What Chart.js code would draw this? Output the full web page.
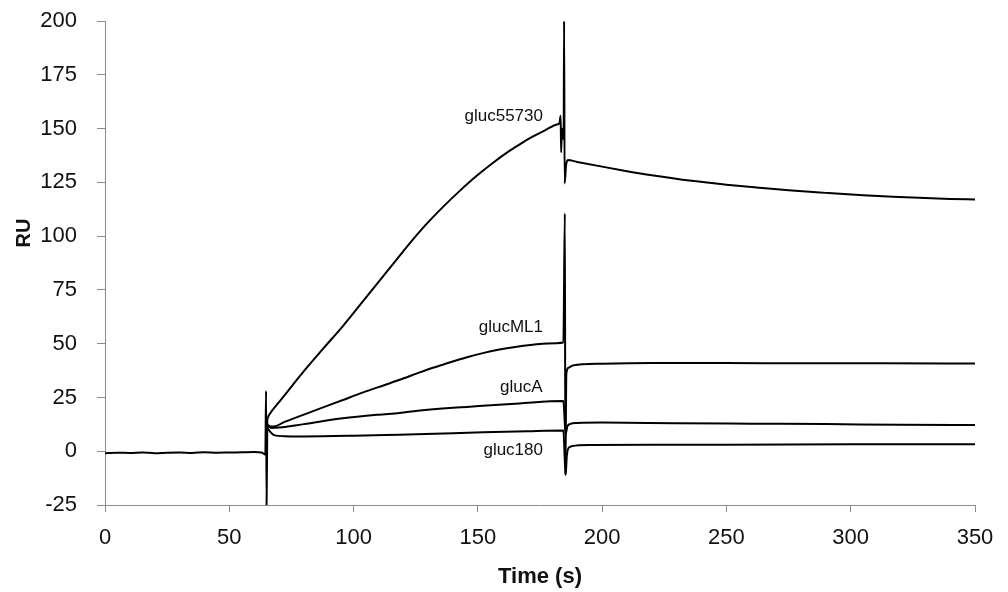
<!DOCTYPE html>
<html>
<head>
<meta charset="utf-8">
<script src="https://cdn.jsdelivr.net/npm/chart.js@4.4.1/dist/chart.umd.min.js"></script>
<style>
  html, body { margin: 0; padding: 0; background: #ffffff; }
  #wrap { width: 1008px; height: 592px; position: relative; }
</style>
</head>
<body>
<div id="wrap"><canvas id="c" width="1008" height="592"></canvas></div>
<script>
// ---- Data ----
const xTicks = [0, 50, 100, 150, 200, 250, 300, 350];
const yTicks = [-25, 0, 25, 50, 75, 100, 125, 150, 175, 200];

// shared baseline before injection, including injection spike
const baselineTime = [0, 5, 10, 15, 20, 25, 30, 35, 40, 45, 50, 55, 60, 63, 64.5, 64.8, 65.0, 65.3];
const baselineRU   = [-0.9, -0.7, -0.8, -0.6, -0.9, -0.7, -0.6, -0.8, -0.5, -0.7, -0.6, -0.5, -0.4, -0.6, -1.5, 28, -25, 15];

const time55730 = [65.3, 66, 70, 75, 80, 88, 95.7, 103, 110, 116, 122.5, 129, 136, 142.5, 149.3, 156, 162.7, 167, 172, 177, 182.1, 182.8, 183.3, 183.5, 183.8, 184.5, 184.7, 184.9, 185.5, 186.2, 190, 200, 210, 220, 236, 250, 263, 275, 290, 305, 317, 330, 340, 350];
const ru55730   = [15, 16.8, 22.8, 30, 37.2, 48, 58.2, 68.6, 78.6, 87.2, 96.5, 105.2, 113.6, 120.8, 127.8, 134, 139.6, 142.8, 146.2, 149.2, 152, 152.4, 156, 139, 150, 145, 200, 124.5, 133, 135.4, 134.5, 132.3, 130.2, 128.3, 125.7, 123.9, 122.5, 121.3, 120.1, 119, 118.3, 117.7, 117.3, 117.0];

const timeML1 = [65.3, 66.5, 68, 72, 80, 88, 95.7, 103, 110, 118.5, 125.8, 131.9, 138, 145.3, 152, 158.7, 165, 172.1, 178, 184.4, 185.0, 185.2, 185.6, 186.5, 188, 192, 200, 220, 250, 280, 310, 350];
const ruML1   = [12.5, 11.5, 11.5, 13.5, 17, 20.5, 23.8, 27, 29.8, 33.2, 36.3, 38.8, 41, 43.6, 45.6, 47.3, 48.5, 49.5, 50.1, 50.5, 110.5, -11, 36, 38.8, 39.8, 40.4, 40.7, 41, 41, 40.9, 40.9, 40.8];

const timeA = [65.3, 67, 70, 80, 95.7, 110, 118.5, 125.8, 140, 152, 166.7, 184.4, 185.3, 186, 187, 190, 200, 230, 260, 290, 320, 350];
const ruA   = [12, 10.8, 11, 12.6, 15.3, 17, 17.8, 18.8, 20.2, 21.1, 22.2, 23.3, 8, 11.5, 12.6, 13.1, 13.3, 13, 12.8, 12.6, 12.3, 12.2];

const time180 = [65.3, 66.5, 68, 72, 80, 100, 118.5, 140, 152, 170, 184.4, 185.3, 185.8, 186.5, 188, 195, 220, 250, 300, 350];
const ru180   = [11, 9, 7.5, 7, 6.9, 7.2, 7.7, 8.3, 8.8, 9.3, 9.6, -11, -2, 1.5, 2.4, 2.9, 3, 3, 3.2, 3.2];

// curve labels: name, anchor time (right edge), anchor RU (vertical centre)
const labelNames = ['gluc55730', 'glucML1', 'glucA', 'gluc180'];
const labelTimes = [176.2, 176.2, 176.0, 176.2];
const labelRUs   = [155.5, 57.8, 29.8, 0.2];

// ---- Build datasets ----
function pts(xs, ys) { return xs.map((x, i) => ({ x: x, y: ys[i] })); }
function ds(label, xs, ys) {
  return {
    label: label,
    data: pts(xs, ys),
    borderColor: '#000000',
    borderWidth: 2,
    pointRadius: 0,
    cubicInterpolationMode: 'monotone',
    fill: false,
    showLine: true,
    clip: 0
  };
}

const AXIS_GREY = '#8c8c8c';

function zeroPad(scale) {
  scale.paddingTop = 0; scale.paddingBottom = 0;
  scale.paddingLeft = 0; scale.paddingRight = 0;
}

const curveLabels = {
  id: 'curveLabels',
  afterDatasetsDraw(chart) {
    const ctx = chart.ctx;
    const xs = chart.scales.x, ys = chart.scales.y;
    ctx.save();
    ctx.fillStyle = '#111111';
    ctx.font = '17px "Liberation Sans", Arial, sans-serif';
    ctx.textAlign = 'right';
    ctx.textBaseline = 'middle';
    labelNames.forEach((n, i) => {
      ctx.fillText(n, xs.getPixelForValue(labelTimes[i]), ys.getPixelForValue(labelRUs[i]));
    });
    // y-axis title (sits level with the 100 tick in the reference)
    ctx.font = 'bold 20px "Liberation Sans", Arial, sans-serif';
    ctx.textAlign = 'center';
    ctx.textBaseline = 'middle';
    ctx.translate(24, chart.chartArea.top + 212);
    ctx.rotate(-Math.PI / 2);
    ctx.fillText('RU', 0, 0);
    ctx.restore();
  }
};

new Chart(document.getElementById('c'), {
  type: 'scatter',
  data: {
    datasets: [
      ds('baseline', baselineTime, baselineRU),
      ds('gluc55730', time55730, ru55730),
      ds('glucML1', timeML1, ruML1),
      ds('glucA', timeA, ruA),
      ds('gluc180', time180, ru180)
    ]
  },
  options: {
    responsive: false,
    maintainAspectRatio: false,
    animation: false,
    devicePixelRatio: 1,
    layout: { padding: { left: 0, right: 33, top: 21, bottom: 0 } },
    plugins: {
      legend: { display: false },
      tooltip: { enabled: false },
      title: { display: false }
    },
    scales: {
      x: {
        type: 'linear',
        min: xTicks[0],
        max: xTicks[xTicks.length - 1],
        afterBuildTicks(scale) { scale.ticks = xTicks.map(v => ({ value: v })); },
        afterFit(scale) { scale.height = 87; zeroPad(scale); },
        grid: { drawOnChartArea: false, drawTicks: true, tickLength: 7, color: AXIS_GREY, lineWidth: 1 },
        border: { display: true, color: AXIS_GREY, width: 1 },
        ticks: {
          color: '#111111',
          padding: 13,
          maxRotation: 0,
          font: { family: '"Liberation Sans", Arial, sans-serif', size: 22 }
        },
        title: {
          display: true,
          text: 'Time (s)',
          color: '#111111',
          padding: { top: 0, bottom: 2 },
          font: { family: '"Liberation Sans", Arial, sans-serif', size: 22, weight: 'bold' }
        }
      },
      y: {
        type: 'linear',
        min: yTicks[0],
        max: yTicks[yTicks.length - 1],
        afterBuildTicks(scale) { scale.ticks = yTicks.map(v => ({ value: v })); },
        afterFit(scale) { scale.width = 105; zeroPad(scale); },
        grid: { drawOnChartArea: false, drawTicks: true, tickLength: 8, color: AXIS_GREY, lineWidth: 1 },
        border: { display: true, color: AXIS_GREY, width: 1 },
        ticks: {
          color: '#111111',
          padding: 20,
          font: { family: '"Liberation Sans", Arial, sans-serif', size: 22 }
        },
        title: { display: false }
      }
    }
  },
  plugins: [curveLabels]
});
</script>
</body>
</html>
